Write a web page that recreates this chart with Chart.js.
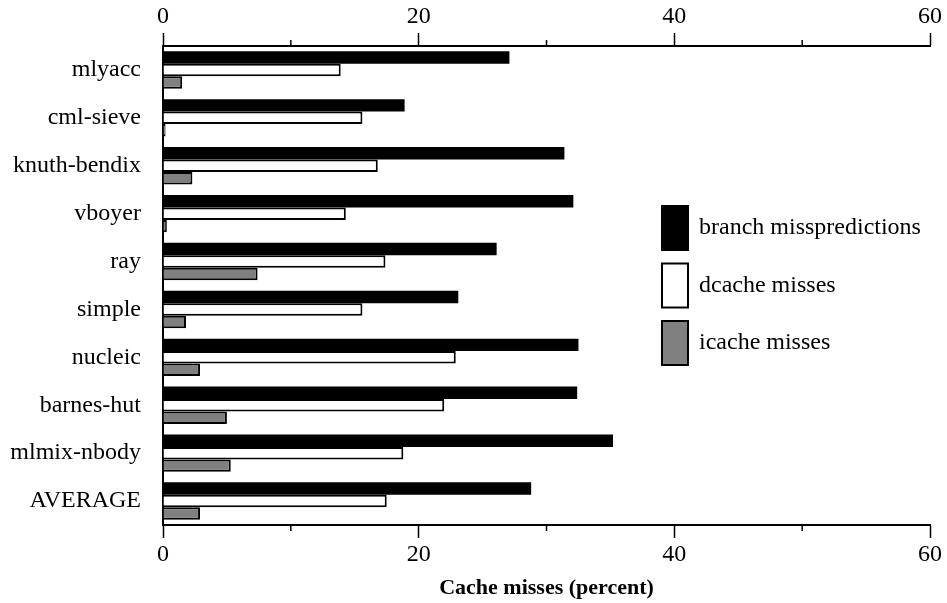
<!DOCTYPE html>
<html>
<head>
<meta charset="utf-8">
<script src="https://cdn.jsdelivr.net/npm/chart.js@4"></script>
<style>
    body { margin: 0; background: #fff; }
    canvas { display: block; }
</style>
</head>
<body>
<canvas id="missChart" width="947" height="603"></canvas>
<script>
const benchmarks = ['mlyacc', 'cml-sieve', 'knuth-bendix', 'vboyer', 'ray', 'simple', 'nucleic', 'barnes-hut', 'mlmix-nbody', 'AVERAGE'];
const branchMisses = [27.1, 18.9, 31.4, 32.1, 26.1, 23.1, 32.5, 32.4, 35.2, 28.8];
const dcacheMisses = [13.9, 15.6, 16.8, 14.3, 17.4, 15.6, 22.9, 22.0, 18.8, 17.5];
const icacheMisses = [1.5, 0.2, 2.3, 0.3, 7.4, 1.8, 2.9, 5.0, 5.3, 2.9];
const xTicks = [0, 20, 40, 60];

const serif = 'Liberation Serif';

// short ticks at 10, 30, 50 and the legend box on the right
const extras = {
    id: 'extras',
    afterDraw(chart) {
        const ctx = chart.ctx;
        ctx.save();
        ctx.strokeStyle = '#000';
        ctx.lineWidth = 1.5;
        for (const id of ['x', 'x2']) {
            const scale = chart.scales[id];
            for (const t of scale.ticks) {
                if (xTicks.includes(t.value)) continue;
                const px = scale.getPixelForValue(t.value);
                ctx.beginPath();
                if (scale.position === 'top') {
                    ctx.moveTo(px, scale.bottom);
                    ctx.lineTo(px, scale.bottom - 6);
                } else {
                    ctx.moveTo(px, scale.top);
                    ctx.lineTo(px, scale.top + 6);
                }
                ctx.stroke();
            }
        }

        ctx.font = '24px "' + serif + '"';
        ctx.textBaseline = 'middle';
        chart.data.datasets.forEach((ds, i) => {
            const y = 206 + i * 57.5;
            ctx.fillStyle = ds.backgroundColor;
            ctx.fillRect(662, y, 26, 44);
            ctx.lineWidth = 2;
            ctx.strokeRect(662, y, 26, 44);
            ctx.fillStyle = '#000';
            ctx.fillText(ds.label, 699, y + 22);
        });
        ctx.restore();
    }
};

const xAxis = (position, height) => ({
    type: 'linear',
    position: position,
    min: 0,
    max: 60,
    afterFit: (scale) => { scale.height = height; },
    grid: {
        drawOnChartArea: false,
        tickLength: 13,
        tickWidth: 1.5,
        tickColor: (c) => (c.tick && xTicks.includes(c.tick.value)) ? '#000' : 'rgba(0,0,0,0)'
    },
    border: { display: true, color: '#000', width: 2 },
    ticks: {
        stepSize: 10,
        autoSkip: false,
        maxRotation: 0,
        padding: 2,
        color: '#000',
        font: { family: serif, size: 24 },
        callback: (v) => xTicks.includes(v) ? v : ''
    }
});

const bottomAxis = xAxis('bottom', 78);
bottomAxis.title = {
    display: true,
    text: 'Cache misses (percent)',
    color: '#000',
    font: { family: serif, size: 22, weight: 'bold' },
    padding: { top: 0, bottom: 1 }
};

new Chart(document.getElementById('missChart').getContext('2d'), {
    type: 'bar',
    data: {
        labels: benchmarks,
        datasets: [
            { label: 'branch misspredictions', data: branchMisses, backgroundColor: '#000000', borderWidth: 0 },
            { label: 'dcache misses', data: dcacheMisses, backgroundColor: '#ffffff', borderColor: '#000', borderWidth: 2 },
            { label: 'icache misses', data: icacheMisses, backgroundColor: '#808080', borderColor: '#000', borderWidth: 2 }
        ]
    },
    options: {
        indexAxis: 'y',
        responsive: false,
        animation: false,
        categoryPercentage: 0.78,
        barPercentage: 1,
        layout: { padding: { left: 0, right: 17, top: 0, bottom: 0 } },
        plugins: {
            legend: { display: false },
            tooltip: { enabled: false }
        },
        scales: {
            x: bottomAxis,
            x2: xAxis('top', 46),
            y: {
                type: 'category',
                afterFit: (scale) => { scale.width = 163; },
                grid: { display: false, drawTicks: false },
                border: { display: true, color: '#000', width: 2 },
                ticks: {
                    padding: 22,
                    color: '#000',
                    font: { family: serif, size: 24 }
                }
            }
        }
    },
    plugins: [extras]
});
</script>
</body>
</html>
